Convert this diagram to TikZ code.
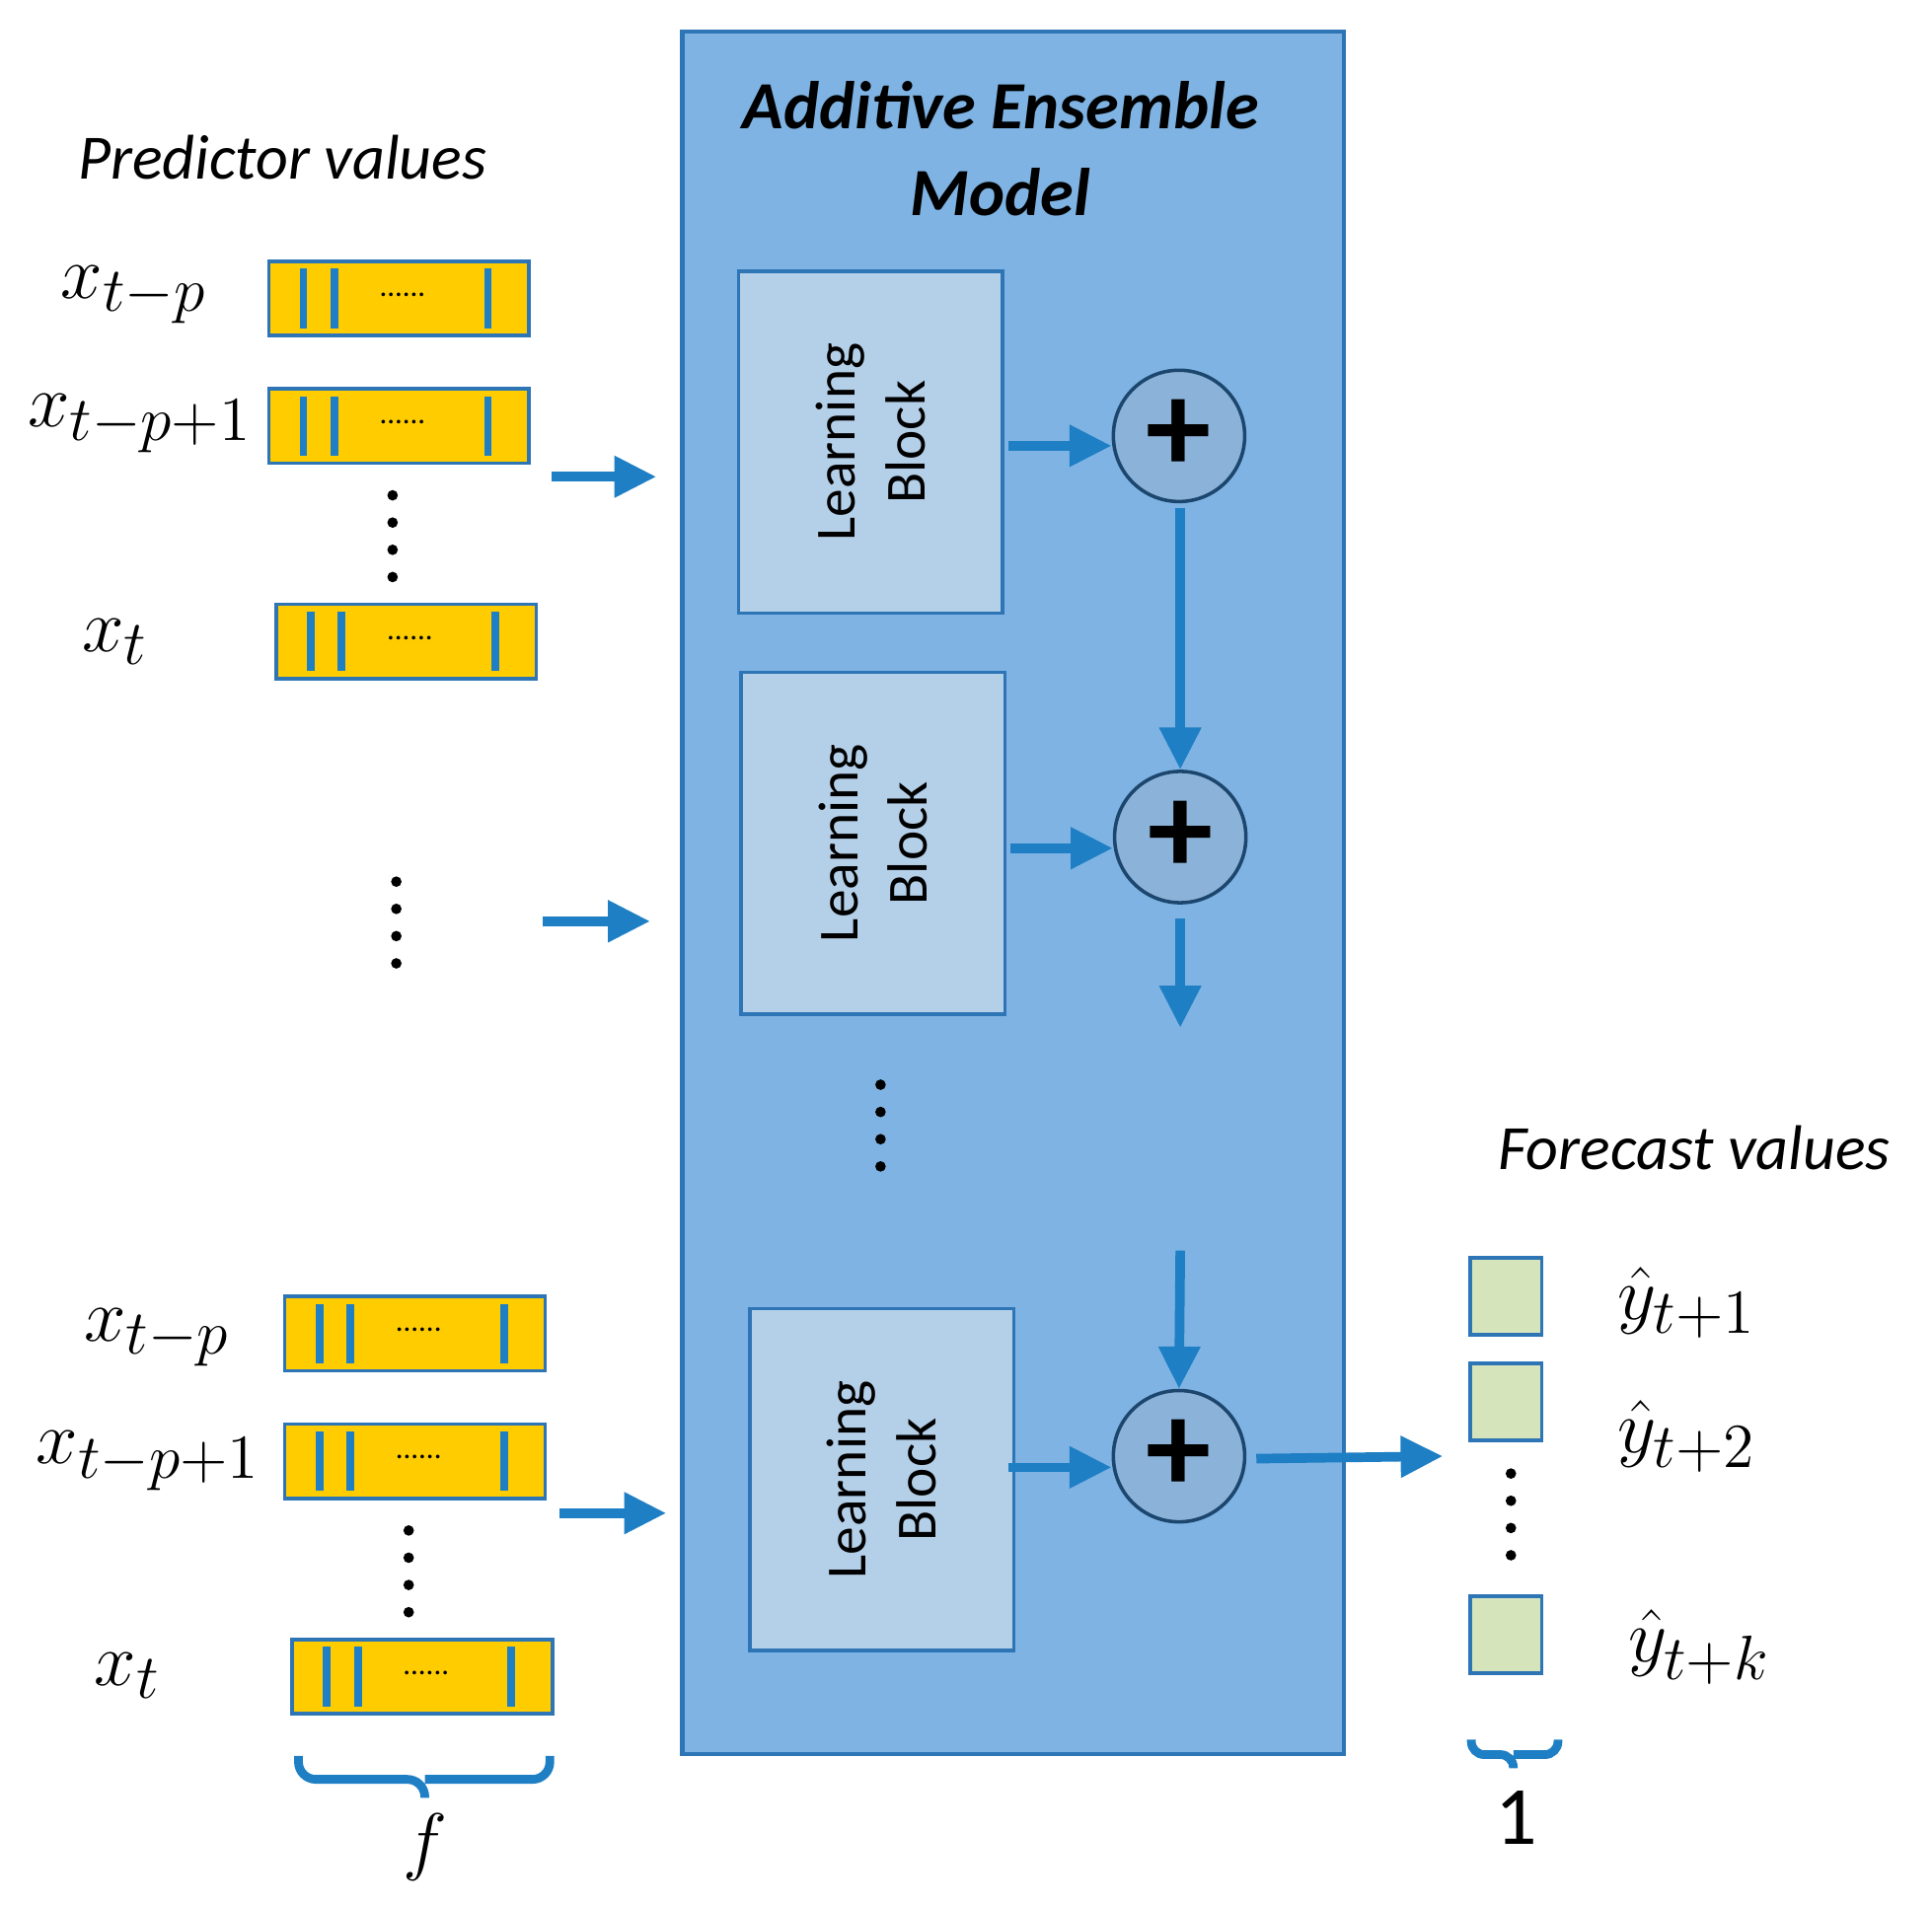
\documentclass[tikz,border=0pt]{standalone}
\usepackage{fontspec}
\setmainfont{Carlito}
\usetikzlibrary{arrows.meta}
\definecolor{ab}{HTML}{1F7FC4}
\definecolor{big}{HTML}{7EB3E3}
\definecolor{bord}{HTML}{2E75B6}
\definecolor{lb}{HTML}{B4CFE8}
\definecolor{circ}{HTML}{8BB3D9}
\definecolor{yel}{HTML}{FFCC00}
\definecolor{grn}{HTML}{D6E4BC}
\begin{document}
\begin{tikzpicture}[x=0.01cm,y=-0.01cm,
  arr/.style={ab,line width=2.2pt,-{Triangle[length=0.34cm,width=0.32cm]}},
  bar/.style={draw=bord,fill=yel,line width=0.8pt,minimum width=2.1cm,minimum height=0.6cm,inner sep=0},
  lblock/.style={draw=bord,fill=lb,line width=0.8pt,minimum width=2.13cm,minimum height=2.76cm,inner sep=0},
  plus/.style={circle,draw=bord!60!black,fill=circ,line width=0.8pt,minimum size=1.06cm,inner sep=0,font=\fontsize{30}{30}\selectfont\bfseries},
  sq/.style={draw=bord,fill=grn,line width=0.8pt,minimum width=0.58cm,minimum height=0.62cm,inner sep=0},
  ml/.style={font=\fontsize{19}{19}\selectfont},
  dots/.style={fill=black,circle,inner sep=0,minimum size=0.085cm},
  lbt/.style={rotate=90,align=center,font=\fontsize{13}{16}\selectfont}]
\useasboundingbox (0,0) rectangle (1560,1538);
\node[draw=bord,fill=big,line width=1pt,minimum width=5.34cm,minimum height=13.9cm,inner sep=0] (model) at (818,721) {};
\node[align=center,font=\fontsize{15.5}{20}\selectfont\bfseries\itshape] (title) at (808,120) {Additive Ensemble\\Model};
\node[font=\fontsize{14.5}{17}\selectfont\itshape] (pv) at (228,127) {Predictor values};
\node[font=\fontsize{14.5}{17}\selectfont\itshape] (fv) at (1368,927) {Forecast values};
% bars
\foreach \n/\x/\y in {b1/322/241,b2/322/344,b3/328/518,b4/335/1077,b5/335/1180,b6/341/1354}{
  \node[bar] (\n) at (\x,\y) {};
  \draw[ab,line width=1.8pt] (\x-77,\y-24) -- (\x-77,\y+24) (\x-52,\y-24) -- (\x-52,\y+24) (\x+72,\y-24) -- (\x+72,\y+24);
  \node[font=\scriptsize] at (\x+3,\y-3) {......};
}
\node[ml] (l1) at (108,238) {$x_{t-p}$};
\node[ml] (l2) at (113,342) {$x_{t-p+1}$};
\node[ml] (l3) at (93,518) {$x_{t}$};
\node[ml] (l4) at (127,1080) {$x_{t-p}$};
\node[ml] (l5) at (120,1180) {$x_{t-p+1}$};
\node[ml] (l6) at (103,1353) {$x_{t}$};
% vertical dots
\foreach \x/\y in {317/400,320/712,330/1236,711/876,1220/1190}{
  \foreach \i in {0,1,2,3} \node[dots] at (\x,\y+\i*22) {};
}
% input arrows
\coordinate (i1s) at (445,385); \coordinate (i1e) at (530,385);
\coordinate (i2s) at (438,744); \coordinate (i2e) at (525,744);
\coordinate (i3s) at (452,1222); \coordinate (i3e) at (538,1222);
\draw[arr] (i1s) -- (i1e); \draw[arr] (i2s) -- (i2e); \draw[arr] (i3s) -- (i3e);
% blocks
\node[lblock] (lb1) at (703,357) {}; \node[lbt] at (lb1) {Learning\\Block};
\node[lblock] (lb2) at (705,681) {}; \node[lbt] at (lb2) {Learning\\Block};
\node[lblock] (lb3) at (712,1195) {}; \node[lbt] at (lb3) {Learning\\Block};
\node[plus] (p1) at (952,352) {+};
\node[plus] (p2) at (953,676) {+};
\node[plus] (p3) at (952,1176) {+};
\draw[arr] (lb1.east|-0,360) ++(3,0) -- (p1.west|-0,360);
\draw[arr] (lb2.east|-0,685) ++(3,0) -- (p2.west|-0,685);
\draw[arr] (lb3.east|-0,1185) ++(-6,0) -- (p3.west|-0,1185);
\draw[arr] (953,410) -- (p2.north);
\coordinate (c1) at (953,830); \coordinate (c2) at (953,1010);
\draw[arr] (953,742) -- (c1);
\draw[arr] (c2) -- (p3.north);
\coordinate (out) at (1165,1176);
\draw[arr] (p3.east) ++(8,2) -- (out);
% outputs
\node[sq] (s1) at (1216,1047) {};
\node[sq] (s2) at (1216,1132) {};
\node[sq] (s3) at (1216,1320) {};
\node[ml] at (1362,1052) {$\hat{y}_{t+1}$};
\node[ml] at (1362,1160) {$\hat{y}_{t+2}$};
\node[ml] at (1372,1330) {$\hat{y}_{t+k}$};
% braces
\draw[ab,line width=2pt,rounded corners=4pt] (241,1418) -- (241,1437) -- (343,1437) -- (343,1452) (343,1437) -- (444,1437) -- (444,1418);
\node[ml] (f) at (343,1492) {$f$};
\draw[ab,line width=2pt,rounded corners=3pt] (1188,1405) -- (1188,1417) -- (1222,1417) -- (1222,1428) (1222,1417) -- (1258,1417) -- (1258,1405);
\node[font=\fontsize{19}{19}\selectfont] (one) at (1224,1468) {1};
\end{tikzpicture}
\end{document}
